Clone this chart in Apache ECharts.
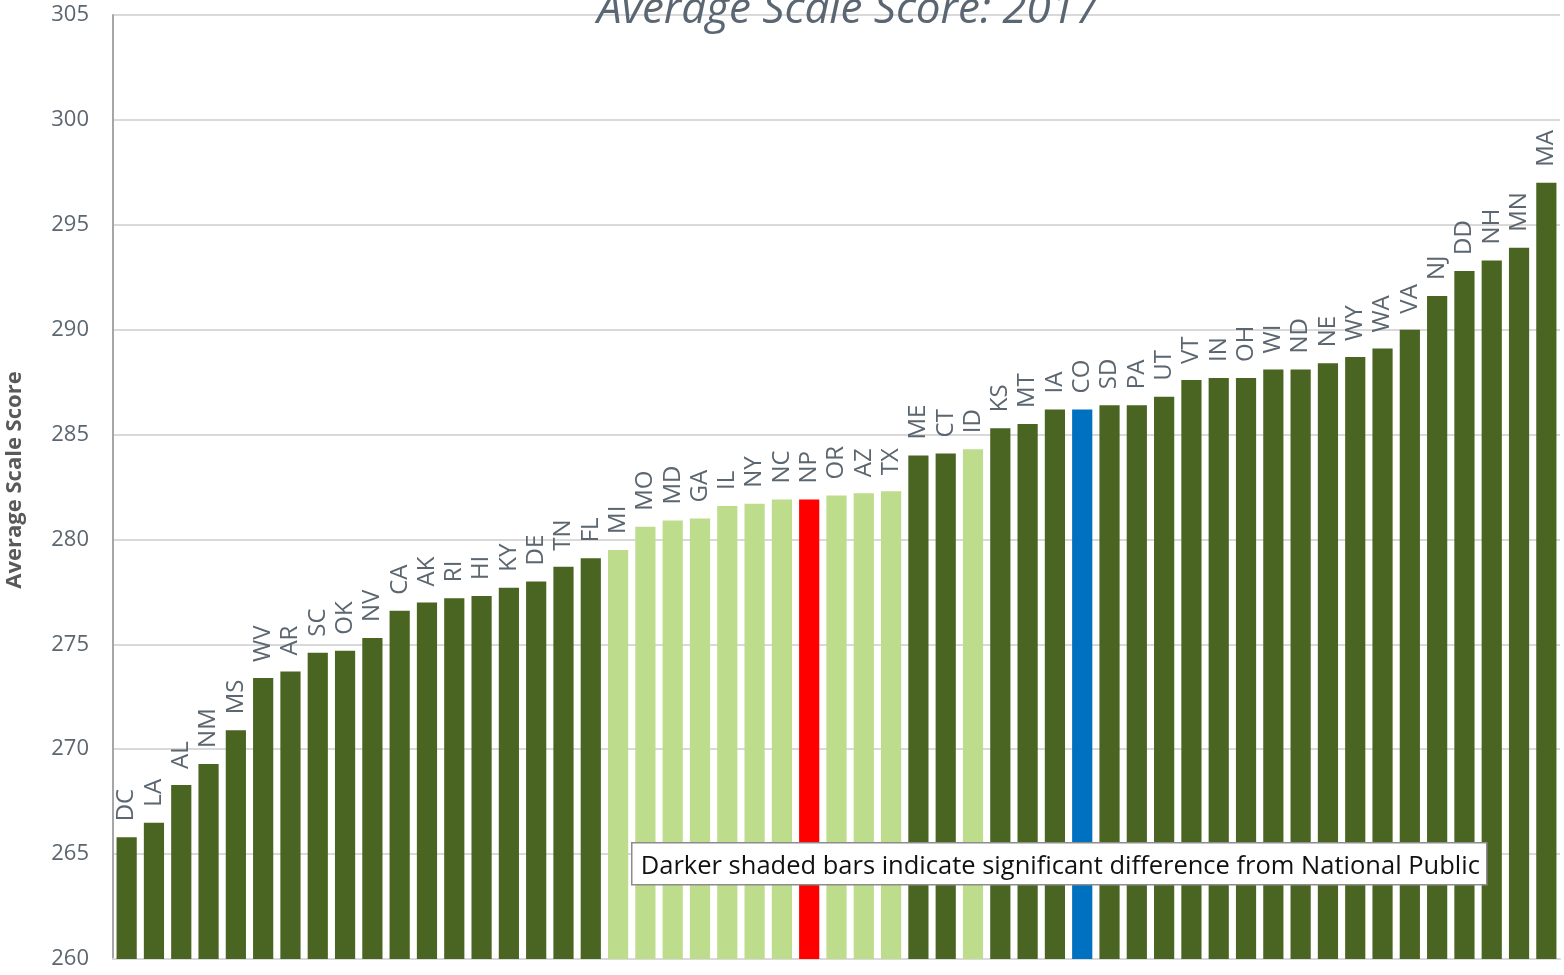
<!DOCTYPE html>
<html>
<head>
<meta charset="utf-8">
<script src="https://cdn.jsdelivr.net/npm/echarts@6/dist/echarts.min.js"></script>
<style>
  html, body { margin: 0; padding: 0; background: #ffffff; }
  #chart { width: 1564px; height: 975px; }
</style>
</head>
<body>
<div id="chart"></div>
<script>
// States ordered by 2017 average scale score
const states = ['DC','LA','AL','NM','MS','WV','AR','SC','OK','NV','CA','AK','RI','HI','KY','DE','TN','FL',
  'MI','MO','MD','GA','IL','NY','NC','NP','OR','AZ','TX','ME','CT','ID','KS','MT','IA','CO','SD','PA',
  'UT','VT','IN','OH','WI','ND','NE','WY','WA','VA','NJ','DD','NH','MN','MA'];

const scores = [265.8, 266.5, 268.3, 269.3, 270.9, 273.4, 273.7, 274.6, 274.7, 275.3, 276.6, 277.0, 277.2,
  277.3, 277.7, 278.0, 278.7, 279.1, 279.5, 280.6, 280.9, 281.0, 281.6, 281.7, 281.9, 281.9, 282.1, 282.2,
  282.3, 284.0, 284.1, 284.3, 285.3, 285.5, 286.2, 286.2, 286.4, 286.4, 286.8, 287.6, 287.7, 287.7, 288.1,
  288.1, 288.4, 288.7, 289.1, 290.0, 291.6, 292.8, 293.3, 293.9, 297.0];

// Not significantly different from National Public
const notSignificant = ['MI','MO','MD','GA','IL','NY','NC','OR','AZ','TX','ID'];
const nationalPublic = 'NP';
const homeState = 'CO';

const yTicks = { min: 260, max: 305, interval: 5 };

const titleText = 'Average Scale Score: 2017';
const yAxisTitle = 'Average Scale Score';
const noteText = 'Darker shaded bars indicate significant difference from National Public';

const COLORS = { dark: '#4a6521', light: '#bedd8c', np: '#ff0000', home: '#0070c0' };

function barColor(code) {
  if (code === nationalPublic) return COLORS.np;
  if (code === homeState) return COLORS.home;
  if (notSignificant.indexOf(code) >= 0) return COLORS.light;
  return COLORS.dark;
}

const barData = states.map((s, i) => ({
  value: scores[i],
  itemStyle: { color: barColor(s) }
}));

const chart = echarts.init(document.getElementById('chart'));
const FONT = '"Open Sans", "Noto Sans", sans-serif';

chart.setOption({
  animation: false,
  backgroundColor: '#ffffff',
  title: {
    text: titleText,
    left: 597,
    top: -12,
    padding: 0,
    textStyle: { fontFamily: FONT, fontStyle: 'italic', fontWeight: 'normal', fontSize: 44, color: '#5b6673' }
  },
  grid: { left: 113, right: 4, top: 15, bottom: 16, outerBoundsMode: 'none', containLabel: false },
  xAxis: {
    type: 'category',
    data: states,
    axisLine: { show: true, lineStyle: { color: '#d9d9d9', width: 2 } },
    axisTick: { show: false },
    axisLabel: { show: false }
  },
  yAxis: {
    type: 'value',
    min: yTicks.min,
    max: yTicks.max,
    interval: yTicks.interval,
    name: yAxisTitle,
    nameLocation: 'middle',
    nameGap: 87,
    nameTextStyle: { fontFamily: FONT, fontWeight: 'bold', fontSize: 22, color: '#595959', padding: [0, 0, 0, 14] },
    axisLine: { show: true, lineStyle: { color: '#a6a6a6', width: 2 } },
    axisTick: { show: false },
    axisLabel: { fontFamily: FONT, fontSize: 22, color: '#5b6670', margin: 24 },
    splitLine: { show: true, lineStyle: { color: '#d9d9d9', width: 2 } }
  },
  series: [{
    type: 'bar',
    data: barData,
    barCategoryGap: '26%',
    label: {
      show: true,
      position: 'top',
      rotate: 90,
      align: 'left',
      verticalAlign: 'middle',
      distance: 16,
      formatter: p => states[p.dataIndex],
      fontFamily: FONT,
      fontSize: 24,
      color: '#5b6670'
    }
  }],
  graphic: [{
    type: 'group',
    left: 631,
    top: 842,
    z: 100,
    children: [{
      type: 'rect',
      z: 100,
      shape: { x: 0, y: 0, width: 855, height: 42 },
      style: { fill: '#ffffff', stroke: '#8c8c8c', lineWidth: 1.5 }
    }, {
      type: 'text',
      z: 101,
      x: 9,
      y: 24,
      style: {
        text: noteText,
        fontFamily: FONT,
        fontSize: 25.5,
        fill: '#111111',
        verticalAlign: 'middle'
      }
    }]
  }]
});
</script>
</body>
</html>
